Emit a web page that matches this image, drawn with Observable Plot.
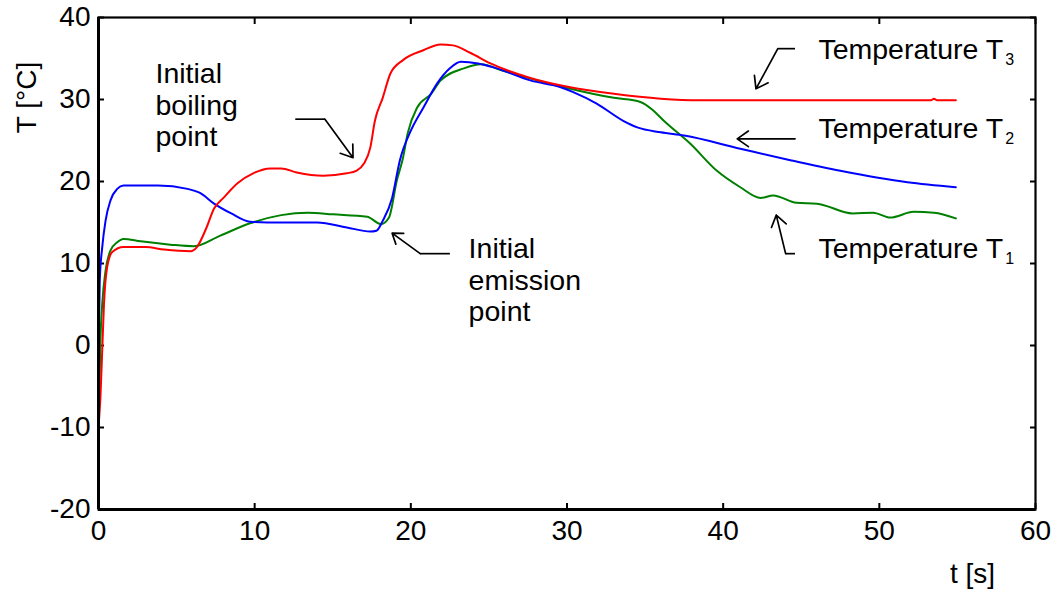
<!DOCTYPE html>
<html><head><meta charset="utf-8">
<script src="https://cdn.jsdelivr.net/npm/d3@7"></script>
<script src="https://cdn.jsdelivr.net/npm/@observablehq/plot@0.6"></script>
<style>body{margin:0;background:#fff} svg{display:block}</style>
</head><body><div id="chart"></div>
<script>
// ---- data ----
const seriesNames = ["T1", "T2", "T3"];
const xTicks = [0, 10, 20, 30, 40, 50, 60];
const yTicks = [-20, -10, 0, 10, 20, 30, 40];

// Temperature T1 (green)
const time1 = [0, 0.06, 0.13, 0.24, 0.45, 0.77, 1.2, 1.6, 2.7, 4.6, 6.1, 7.8, 9.7, 11.7, 13.4, 15.0, 17.2, 18.1, 18.6, 19.1, 19.5, 19.8, 20.4, 21.3, 21.9, 23.4, 24.5, 25.9, 29.8, 33.0, 34.7, 35.5, 36.2, 37.9, 39.6, 41.1, 42.4, 43.2, 44.7, 46.0, 48.3, 49.6, 50.7, 52.2, 53.5, 54.9];
const temp1 = [-6, -4.6, 1.0, 5.1, 9.1, 11.6, 12.6, 13.0, 12.7, 12.3, 12.1, 13.4, 14.9, 15.9, 16.2, 16.0, 15.7, 14.8, 15.6, 20.1, 22.9, 25.9, 29.0, 30.7, 32.3, 33.8, 34.3, 33.5, 31.5, 30.2, 29.7, 28.7, 27.4, 24.6, 21.3, 19.3, 18.0, 18.3, 17.4, 17.3, 16.1, 16.2, 15.6, 16.3, 16.2, 15.5];

// Temperature T2 (blue)
const time2 = [0, 0.04, 0.08, 0.24, 0.45, 0.77, 1.2, 1.6, 3.8, 5.7, 6.5, 7.4, 8.5, 9.7, 11.7, 14.0, 15.9, 17.4, 17.8, 18.2, 18.8, 19.3, 20.0, 20.8, 21.7, 22.5, 23.2, 24.3, 25.5, 27.7, 29.6, 30.4, 31.9, 33.6, 34.5, 36.0, 37.5, 41.1, 44.3, 47.5, 51.8, 54.9];
const temp2 = [-4, 3, 7.9, 12.0, 15.2, 17.7, 19.1, 19.5, 19.5, 19.1, 18.6, 17.3, 16.1, 15.1, 15.0, 15.0, 14.4, 13.9, 14.0, 15.2, 18.0, 22.6, 26.2, 29.0, 32.0, 33.8, 34.6, 34.4, 33.8, 32.3, 31.5, 30.9, 29.5, 27.4, 26.6, 26.0, 25.6, 24.0, 22.6, 21.3, 19.9, 19.3];

// Temperature T3 (red)
const time3 = [0, 0.13, 0.25, 0.35, 0.55, 0.88, 1.6, 3.0, 4.2, 5.9, 6.3, 6.9, 7.4, 8.0, 8.9, 9.9, 11.0, 11.7, 12.7, 14.4, 15.9, 16.5, 17.0, 17.4, 17.7, 18.2, 18.7, 19.5, 20.8, 21.9, 22.7, 23.8, 25.1, 27.7, 30.2, 33.0, 36.0, 38.5, 42, 46, 50, 53.3, 53.5, 53.7, 54.9];
const temp3 = [-10, -6, 0, 5, 9.5, 11.4, 12.0, 12.0, 11.7, 11.5, 12.0, 14.3, 16.7, 18.0, 19.8, 21.0, 21.6, 21.6, 21.1, 20.7, 21.0, 21.3, 22.2, 24.1, 27.4, 30.2, 33.2, 34.8, 36.0, 36.7, 36.6, 35.7, 34.4, 32.6, 31.5, 30.7, 30.1, 29.9, 29.9, 29.9, 29.9, 29.9, 30.1, 29.9, 29.9];

// annotation texts
const labelTexts = ["Initial\nboiling\npoint", "Initial\nemission\npoint", "Temperature T", "Temperature T", "Temperature T"];
const subscripts = ["3", "2", "1"];
const axisTitles = ["t [s]", "T [°C]"];

// ---- build tables ----
const seriesTimes = [time1, time2, time3];
const seriesTemps = [temp1, temp2, temp3];
const rows = seriesNames.flatMap((name, k) => seriesTimes[k].map((t, i) => ({series: name, t, T: seriesTemps[k][i]})));

// annotation placement (data units)
const notes = [
  {text: labelTexts[0], t: 3.65, T: 34.7},
  {text: labelTexts[1], t: 23.7, T: 13.35},
  {text: labelTexts[2], t: 46.1, T: 37.6, sub: subscripts[0]},
  {text: labelTexts[3], t: 46.1, T: 28.0, sub: subscripts[1]},
  {text: labelTexts[4], t: 46.1, T: 13.4, sub: subscripts[2]}
];
// leader segments (no head) and arrow segments (with head)
const leaders = [
  {x1: 12.6, y1: 27.6, x2: 14.5, y2: 27.6},
  {x1: 22.5, y1: 11.2, x2: 20.6, y2: 11.2},
  {x1: 44.6, y1: 36.2, x2: 43.5, y2: 36.2},
  {x1: 44.6, y1: 11.2, x2: 44.0, y2: 11.2}
];
const arrows = [
  {x1: 14.5, y1: 27.6, x2: 16.3, y2: 22.9},
  {x1: 20.6, y1: 11.2, x2: 18.8, y2: 13.7},
  {x1: 43.5, y1: 36.2, x2: 42.1, y2: 31.3},
  {x1: 44.6, y1: 25.2, x2: 40.9, y2: 25.2},
  {x1: 44.0, y1: 11.2, x2: 43.4, y2: 15.9}
];

const fmt = d => String(d);
const font = '"Liberation Sans", Arial, Helvetica, sans-serif';

const chart = Plot.plot({
  width: 1057, height: 595,
  marginLeft: 98, marginRight: 22, marginTop: 17, marginBottom: 86,
  style: {fontFamily: font, fontSize: "28px", color: "#000", background: "#fff"},
  x: {domain: [0, 60]},
  y: {domain: [-20, 40]},
  color: {domain: seriesNames, range: ["#008000", "#0000ff", "#ff0000"]},
  marks: [
    Plot.axisX(xTicks, {anchor: "bottom", tickSize: -6, tickPadding: 17, tickFormat: fmt, label: null, strokeWidth: 2, fontSize: 28}),
    Plot.axisX(xTicks, {anchor: "top", tickSize: -6, tickFormat: () => "", label: null, strokeWidth: 2}),
    Plot.axisY(yTicks, {anchor: "left", tickSize: -6, tickPadding: 14, tickFormat: fmt, label: null, strokeWidth: 2, fontSize: 28}),
    Plot.axisY(yTicks, {anchor: "right", tickSize: -6, tickFormat: () => "", label: null, strokeWidth: 2}),
    Plot.line(rows, {x: "t", y: "T", z: "series", stroke: "series", strokeWidth: 2, curve: "monotone-x"}),
    Plot.frame({stroke: "#000", strokeWidth: 2.2}),
    Plot.ruleX([xTicks[0]], {stroke: "#000", strokeWidth: 3}),
    Plot.ruleY([yTicks[0]], {stroke: "#000", strokeWidth: 3}),
    Plot.link(leaders, {x1: "x1", y1: "y1", x2: "x2", y2: "y2", stroke: "#000", strokeWidth: 1.7}),
    Plot.arrow(arrows, {x1: "x1", y1: "y1", x2: "x2", y2: "y2", stroke: "#000", strokeWidth: 1.7, headLength: 12, headAngle: 70}),
    Plot.text(notes, {x: "t", y: "T", text: d => d.sub ? d.text + "\u200b" + d.sub : d.text, textAnchor: "start", lineAnchor: "top", lineHeight: 1.1, fontSize: 28.5, fill: "#000", className: "note"}),
    Plot.text([axisTitles[1]], {frameAnchor: "top-left", rotate: -90, dx: -71, dy: 80, textAnchor: "middle", lineAnchor: "middle", fontSize: 28, fill: "#000"}),
    Plot.text([axisTitles[0]], {frameAnchor: "bottom-right", dx: -63, dy: 65, textAnchor: "middle", lineAnchor: "middle", fontSize: 28, fill: "#000"})
  ]
});

// turn the trailing digit after the zero-width space into a real subscript tspan
chart.querySelectorAll("text").forEach(el => {
  if (el.children.length) return;
  const s = el.textContent;
  const k = s.indexOf("\u200b");
  if (k < 0) return;
  el.textContent = s.slice(0, k);
  const ts = document.createElementNS("http://www.w3.org/2000/svg", "tspan");
  ts.setAttribute("font-size", "16");
  ts.setAttribute("dx", "2");
  ts.setAttribute("dy", "6");
  ts.textContent = s.slice(k + 1);
  el.appendChild(ts);
});
document.getElementById("chart").appendChild(chart);
</script>
</body></html>
